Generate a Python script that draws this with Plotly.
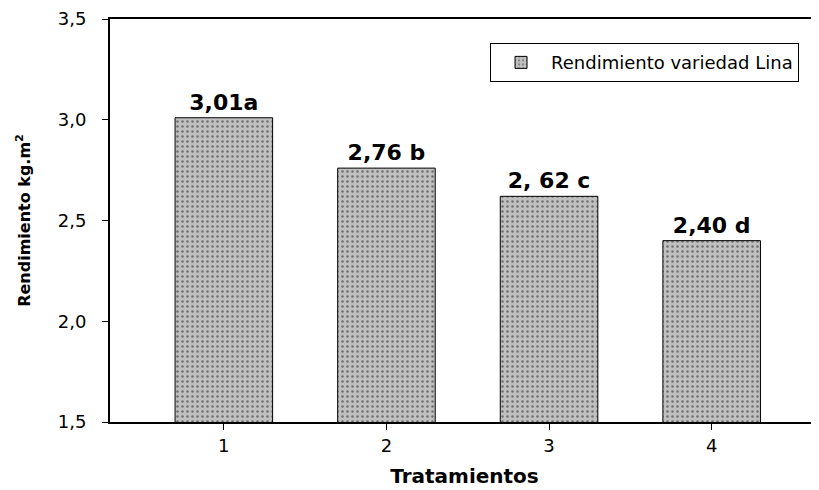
import plotly.graph_objects as go

categories = [1, 2, 3, 4]
values = [3.01, 2.76, 2.62, 2.40]
labels = ["3,01a", "2,76 b", "2, 62 c", "2,40 d"]
series_name = "Rendimiento variedad Lina"
y_ticks = [1.5, 2.0, 2.5, 3.0, 3.5]
y_tick_text = ["1,5", "2,0", "2,5", "3,0", "3,5"]

FONT = "DejaVu Sans, Liberation Sans, Arial"

fig = go.Figure()
fig.add_trace(go.Bar(
    x=categories, y=values, name=series_name, width=0.6,
    base=0, text=labels, textposition="outside", cliponaxis=False,
    textfont=dict(family=FONT, size=22, color="black", weight="bold"),
    marker=dict(color="#c0c0c0", line=dict(color="black", width=1),
                pattern=dict(shape=".", bgcolor="#c0c0c0", fgcolor="#202020",
                             size=5, solidity=0.2, fillmode="overlay")),
))

# page body has an 8px margin, so the figure is sized to fit the 819x490 window
fig.update_layout(
    width=811, height=482,
    margin=dict(l=102, r=0, t=11, b=68, autoexpand=False),
    plot_bgcolor="white", paper_bgcolor="white",
    font=dict(family=FONT, color="black"),
    showlegend=True,
    legend=dict(x=0.536, y=0.94, xanchor="left", yanchor="top",
                bordercolor="black", borderwidth=1, bgcolor="white",
                font=dict(size=18), itemwidth=50),
    bargap=0.4,
)
fig.update_xaxes(
    range=[0.3, 4.66], tickvals=categories, ticktext=[str(c) for c in categories],
    showline=True, linecolor="black", linewidth=2, mirror=True, automargin=False,
    ticks="outside", ticklen=6, tickcolor="black", tickwidth=1,
    tickfont=dict(size=18), showgrid=False,
    title=dict(text="<b>Tratamientos</b>", font=dict(size=20), standoff=14),
)
fig.update_yaxes(
    range=[1.5, 3.5], tickvals=y_ticks, ticktext=y_tick_text,
    showline=True, linecolor="black", linewidth=2, mirror=False, automargin=False,
    ticks="outside", ticklen=6, tickcolor="black", tickwidth=1,
    ticklabelstandoff=12,
    tickfont=dict(size=18), showgrid=False, zeroline=False,
    title=dict(text="<b>Rendimiento kg.m<sup>2</sup></b>", font=dict(size=16), standoff=23),
)
fig.write_html("out.html")
